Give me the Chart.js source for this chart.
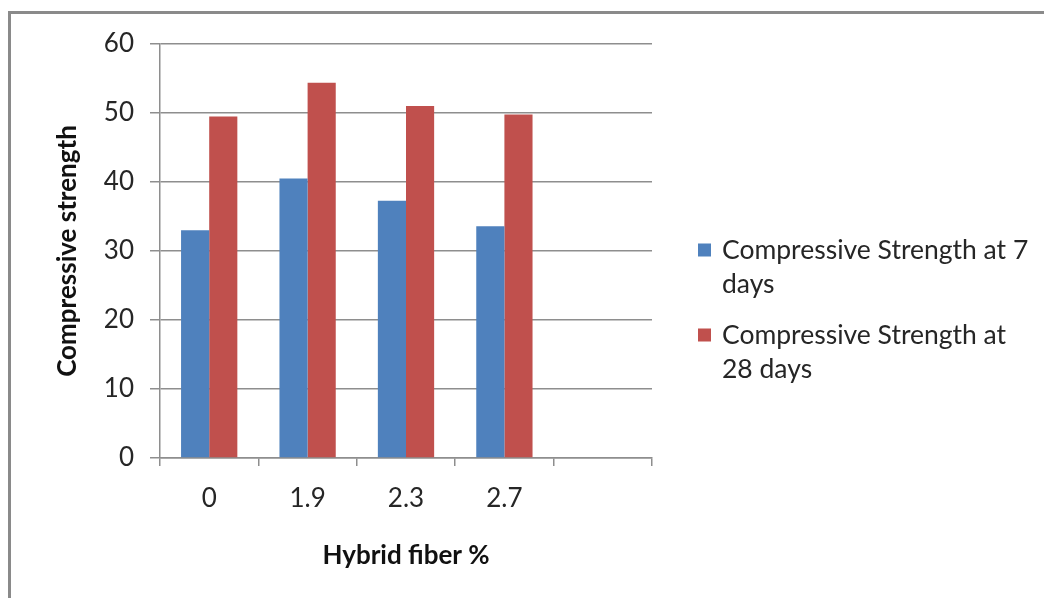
<!DOCTYPE html>
<html>
<head>
<meta charset="utf-8">
<script src="https://cdn.jsdelivr.net/npm/chart.js@4/dist/chart.umd.min.js"></script>
<style>
  html, body { margin: 0; padding: 0; background: #ffffff; }
  body { width: 1044px; height: 598px; position: relative; overflow: hidden; }
  #frame {
    position: absolute; left: 8px; top: 11px; width: 1100px; height: 700px;
    border-left: 3px solid #8a8a8a; border-top: 3px solid #8a8a8a;
    box-sizing: border-box;
  }
  #wrap { position: absolute; left: 0; top: 0; width: 1044px; height: 598px; }
</style>
</head>
<body>
<div id="frame"></div>
<div id="wrap"><canvas id="chart" width="1044" height="598"></canvas></div>
<script>
// Hybrid fiber content (%) on the category axis; the last slot stays empty
const fiberPercent = ['0', '1.9', '2.3', '2.7', ''];

// Compressive strength results
const strength7Days  = [33.0, 40.5, 37.3, 33.6];
const strength28Days = [49.5, 54.4, 51.0, 49.8];

const seriesNames = ['Compressive Strength at 7 days', 'Compressive Strength at 28 days'];
const seriesColors = ['#4F81BD', '#C0504D'];

const yTicks = [0, 10, 20, 30, 40, 50, 60];

const FONT = 'Lato, "Open Sans", sans-serif';
const GRID = '#8e8e8e';
const TEXT = '#262626';

// Legend at the right, each entry wrapped onto two lines
const sideLegend = {
  id: 'sideLegend',
  afterDraw(chart) {
    const ctx = chart.ctx;
    const opts = chart.options.plugins.sideLegend;
    ctx.save();
    ctx.font = opts.fontSize + 'px ' + FONT;
    ctx.textBaseline = 'middle';
    ctx.textAlign = 'left';
    chart.data.datasets.forEach((ds, i) => {
      const y0 = opts.top + i * opts.itemGap;
      ctx.fillStyle = ds.backgroundColor;
      ctx.fillRect(opts.left, y0 - opts.box / 2, opts.box, opts.box);
      ctx.fillStyle = TEXT;
      opts.lines[i].forEach((line, j) => {
        ctx.fillText(line, opts.left + opts.box + opts.textGap, y0 + j * opts.lineGap);
      });
    });
    ctx.restore();
  }
};

new Chart(document.getElementById('chart'), {
  type: 'bar',
  data: {
    labels: fiberPercent,
    datasets: [
      { label: seriesNames[0], data: strength7Days, backgroundColor: seriesColors[0] },
      { label: seriesNames[1], data: strength28Days, backgroundColor: seriesColors[1] }
    ]
  },
  options: {
    responsive: false,
    animation: false,
    devicePixelRatio: 1,
    layout: { padding: { top: 44, right: 392, bottom: 0, left: 0 } },
    datasets: { bar: { categoryPercentage: 0.572, barPercentage: 1.0 } },
    plugins: {
      legend: { display: false },
      tooltip: { enabled: false },
      sideLegend: {
        left: 698, top: 250, itemGap: 85, lineGap: 34, box: 13, textGap: 11, fontSize: 26.5,
        lines: [['Compressive Strength at 7', 'days'], ['Compressive Strength at', '28 days']]
      }
    },
    scales: {
      x: {
        offset: true,
        afterFit(scale) { scale.height = 140; },
        grid: {
          offset: true, drawOnChartArea: false, drawTicks: true,
          tickLength: 8, color: GRID, lineWidth: 1.5
        },
        border: { display: true, color: GRID, width: 1.5 },
        ticks: { color: TEXT, font: { family: FONT, size: 26 }, padding: 17, maxRotation: 0 },
        title: {
          display: true, text: 'Hybrid fiber %', color: '#111111',
          font: { family: FONT, size: 26, weight: 'bold' },
          padding: { top: 0, bottom: 27 }
        }
      },
      y: {
        min: 0, max: 60,
        afterFit(scale) { scale.width = 160; },
        afterBuildTicks(scale) { scale.ticks = yTicks.map(v => ({ value: v })); },
        grid: { color: GRID, lineWidth: 1.5, drawTicks: true, tickLength: 10 },
        border: { display: true, color: GRID, width: 1.5 },
        ticks: { color: TEXT, font: { family: FONT, size: 26 }, padding: 16 },
        title: {
          display: true, text: 'Compressive strength', color: '#111111',
          font: { family: FONT, size: 26, weight: 'bold' },
          padding: { top: 52, bottom: 0 }
        }
      }
    }
  },
  plugins: [sideLegend]
});
</script>
</body>
</html>
